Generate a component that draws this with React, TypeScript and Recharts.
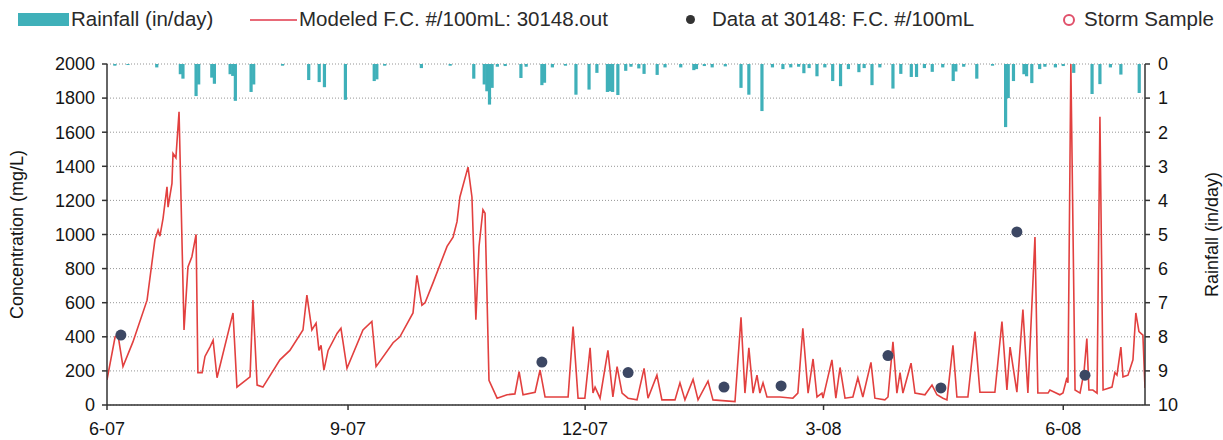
import {
  ComposedChart,
  Bar,
  Line,
  Scatter,
  XAxis,
  YAxis,
  CartesianGrid,
} from "recharts";

// x values are days counted from 6-1-2007
const monthTicks = [0, 92, 182.5, 273.5, 365];
const monthLabels = ["6-07", "9-07", "12-07", "3-08", "6-08"];
const concTicks = [0, 200, 400, 600, 800, 1000, 1200, 1400, 1600, 1800, 2000];
const rainTicks = [0, 1, 2, 3, 4, 5, 6, 7, 8, 9, 10];

// [day, in/day]
const rainfall: [number, number][] = [
  [3, 0.05], [8, 0.03], [19, 0.1], [28, 0.3], [29, 0.43], [34, 0.94], [35, 0.6],
  [40, 0.4], [41, 0.58], [47, 0.3], [48, 0.35], [49, 1.08], [55, 0.82], [56, 0.6],
  [67, 0.05], [77, 0.47], [81, 0.53], [83, 0.68], [91, 1.05], [102, 0.5], [103, 0.45],
  [106, 0.05], [120, 0.12], [131, 0.05], [140, 0.43], [144, 0.6], [145, 0.8],
  [146, 1.19], [147, 0.7], [149, 0.08], [152, 0.06], [158, 0.41], [160, 0.08],
  [166, 0.62], [167, 0.55], [170, 0.1], [175, 0.05], [179, 0.9], [184, 0.75],
  [187, 0.26], [191, 0.82], [192, 0.8], [193, 0.82], [195, 0.91], [198, 0.2],
  [200, 0.08], [203, 0.13], [205, 0.29], [210, 0.32], [213, 0.1], [219, 0.1],
  [224, 0.18], [225, 0.15], [228, 0.06], [231, 0.1], [236, 0.07], [242, 0.7],
  [245, 0.9], [250, 1.38], [254, 0.1], [258, 0.15], [261, 0.1], [264, 0.08],
  [266, 0.27], [268, 0.12], [271, 0.36], [274, 0.1], [277, 0.5], [280, 0.65],
  [283, 0.15], [287, 0.24], [289, 0.12], [292, 0.62], [295, 0.1], [300, 0.72],
  [303, 0.29], [307, 0.38], [309, 0.38], [312, 0.12], [315, 0.23], [319, 0.1],
  [323, 0.5], [324, 0.22], [327, 0.08], [332, 0.43], [338, 0.05], [343, 1.85],
  [344, 1.0], [346, 0.5], [350, 0.3], [351, 0.36], [353, 0.56], [356, 0.15],
  [358, 0.08], [362, 0.1], [365, 0.06], [369, 0.26], [376, 0.88], [379, 0.59],
  [383, 0.1], [387, 0.31], [394, 0.85],
];

// [day, F.C. #/100mL]
const modeledFC: [number, number][] = [
  [0, 147], [3.1, 400], [4.2, 410], [6.1, 225], [9.9, 370], [15.3, 615], [18.3, 970],
  [19.5, 1025], [20.2, 990], [21.4, 1095], [22.9, 1280], [23.3, 1160], [24.8, 1300],
  [25.2, 1475], [26.3, 1450], [27.5, 1720], [29.4, 440], [30.9, 810], [32.4, 870],
  [34.0, 1000], [34.7, 190], [36.3, 190], [37.4, 285], [39.3, 340], [40.5, 380],
  [42.0, 160], [48.1, 540], [49.6, 105], [54.6, 165], [55.7, 615], [57.3, 117],
  [59.5, 105], [66.0, 265], [69.8, 320], [74.8, 440], [76.3, 645], [78.2, 440],
  [79.8, 480], [80.9, 320], [81.7, 350], [82.8, 205], [84.4, 320], [87.8, 420],
  [89.3, 450], [91.6, 215], [97.7, 440], [101.1, 490], [102.7, 225], [109.2, 365],
  [111.8, 400], [116.8, 540], [118.3, 760], [120.2, 585], [121.4, 600], [124.4, 715],
  [129.8, 930], [132.1, 985], [133.6, 1075], [134.7, 1220], [137.8, 1395],
  [139.3, 1220], [140.8, 500], [142.0, 930], [143.5, 1145], [144.3, 1125],
  [145.8, 145], [148.9, 40], [152.7, 60], [155.7, 65], [157.3, 195], [158.8, 60],
  [163.4, 75], [165.3, 205], [167.2, 47], [176.0, 47], [177.9, 460], [179.8, 40],
  [182.4, 40], [184.4, 335], [185.5, 70], [186.3, 105], [188.2, 40], [191.2, 320],
  [193.1, 47], [194.7, 225], [196.6, 70], [198.9, 40], [202.3, 30], [205.0, 215],
  [206.5, 40], [209.9, 175], [211.8, 30], [216.8, 30], [218.7, 130], [220.6, 30],
  [223.7, 150], [225.6, 30], [229.4, 140], [231.3, 30], [239.7, 20], [242.0, 515],
  [243.5, 70], [245.0, 335], [246.6, 70], [248.1, 175], [249.2, 70], [250.4, 130],
  [251.9, 47], [256.9, 47], [261.8, 40], [263.7, 70], [265.6, 450], [267.6, 70],
  [269.5, 270], [271.0, 47], [272.9, 70], [273.3, 40], [276.7, 265], [278.2, 40],
  [279.8, 220], [281.7, 40], [284.7, 47], [286.6, 160], [288.5, 47], [291.6, 250],
  [293.1, 40], [296.9, 30], [298.1, 47], [300.0, 370], [301.5, 70], [302.7, 190],
  [303.8, 70], [306.9, 245], [308.4, 70], [312.2, 60], [314.9, 117], [316.8, 60],
  [319.1, 40], [320.6, 30], [322.9, 350], [324.4, 47], [328.6, 47], [331.3, 430],
  [333.2, 75], [338.9, 75], [341.6, 490], [343.5, 88], [344.7, 340], [347.3, 75],
  [349.6, 560], [351.5, 70], [354.2, 985], [355.3, 70], [359.2, 70], [359.9, 88],
  [363.7, 60], [364.9, 70], [366.4, 160], [366.8, 130], [367.9, 2000], [369.5, 88],
  [371.4, 70], [372.9, 190], [374.0, 390], [374.8, 88], [376.3, 88], [377.9, 70],
  [379.0, 1690], [380.2, 88], [383.6, 105], [384.7, 190], [385.5, 175], [387.0, 340],
  [387.8, 165], [389.7, 175], [391.6, 265], [392.7, 540], [393.9, 430], [395.4, 410],
  [396.2, 100],
];

const observedFC: [number, number][] = [
  [5.3, 410], [166, 252], [198.9, 190], [235.5, 105], [257.3, 112], [298.1, 290],
  [318.3, 100], [347.3, 1015], [373.3, 175],
];

const stormSamples: [number, number][] = [];

const FONT = "'Liberation Sans', Arial, sans-serif";
const TEAL = "#3fb0b9";
const RED = "#e2403f";
const NAVY = "#3c4763";

const chartData = rainfall.map(([day, rain]) => ({ day, rain }));
const modeledData = modeledFC.map(([day, fc]) => ({ day, fc }));
const observedData = observedFC.map(([day, fc]) => ({ day, fc }));
const stormData = stormSamples.map(([day, fc]) => ({ day, fc }));

const tickStyle = { fill: "#141414", fontSize: 18, fontFamily: FONT };

const RainBar = (props: any) => {
  const { x, y, width, height } = props;
  if (x == null || y == null) return null;
  const cx = x + (width || 0) / 2;
  const top = Math.min(y, y + height);
  const h = Math.abs(height);
  return <rect x={cx - 1.6} y={top} width={3.2} height={h} fill={TEAL} />;
};

const Dot = (props: any) => (
  <circle cx={props.cx} cy={props.cy} r={5.5} fill={NAVY} />
);

const StormDot = (props: any) => (
  <circle cx={props.cx} cy={props.cy} r={5} fill="none" stroke="#e0506a" strokeWidth={2} />
);

const legendText = {
  position: "absolute" as const,
  top: 7,
  fontSize: 20.5,
  fontFamily: FONT,
  color: "#2a2a2a",
  whiteSpace: "nowrap" as const,
  lineHeight: "24px",
};

const App = () => (
  <div style={{ position: "absolute", left: 0, top: 0, width: 1223, height: 440, background: "#fff" }}>
    <div style={{ position: "absolute", left: 18, top: 13, width: 51, height: 13, background: TEAL }} />
    <span style={{ ...legendText, left: 71 }}>Rainfall (in/day)</span>
    <div style={{ position: "absolute", left: 250, top: 19, width: 47, height: 2, background: "#e86a78" }} />
    <span style={{ ...legendText, left: 299 }}>Modeled F.C. #/100mL: 30148.out</span>
    <div style={{ position: "absolute", left: 686, top: 15, width: 9, height: 9, borderRadius: "50%", background: "#333" }} />
    <span style={{ ...legendText, left: 712 }}>Data at 30148: F.C. #/100mL</span>
    <div style={{ position: "absolute", left: 1063, top: 14, width: 8, height: 8, borderRadius: "50%", border: "2px solid #e0506a" }} />
    <span style={{ ...legendText, left: 1084 }}>Storm Sample</span>

    <ComposedChart
      width={1223}
      height={440}
      data={chartData}
      margin={{ top: 64, right: 23, bottom: 0, left: 47 }}
    >
      <CartesianGrid
        yAxisId="conc"
        vertical={false}
        stroke="#7a7a7a"
        strokeDasharray="1 2"
        strokeWidth={0.8}
      />
      <XAxis
        dataKey="day"
        type="number"
        domain={[0, 396.2]}
        ticks={monthTicks}
        tickFormatter={(v: number) => monthLabels[monthTicks.indexOf(v)] ?? ""}
        tick={tickStyle}
        tickSize={5}
        tickMargin={12}
        height={35}
        stroke="#333"
        strokeWidth={1.5}
        allowDataOverflow
      />
      <YAxis
        yAxisId="conc"
        domain={[0, 2000]}
        ticks={concTicks}
        tick={tickStyle}
        tickSize={5}
        tickMargin={7}
        width={60}
        stroke="#333"
        strokeWidth={1.5}
        allowDataOverflow
        label={{
          value: "Concentration (mg/L)",
          angle: -90,
          position: "insideLeft",
          offset: -30,
          style: { textAnchor: "middle", fontSize: 18, fontFamily: FONT, fill: "#141414" },
        }}
      />
      <YAxis
        yAxisId="rain"
        orientation="right"
        reversed
        domain={[0, 10]}
        ticks={rainTicks}
        tick={tickStyle}
        tickSize={5}
        tickMargin={8}
        width={55}
        stroke="#333"
        strokeWidth={1.5}
        label={{
          value: "Rainfall (in/day)",
          angle: -90,
          position: "insideRight",
          offset: -12,
          style: { textAnchor: "middle", fontSize: 18, fontFamily: FONT, fill: "#141414" },
        }}
      />
      <Bar
        yAxisId="rain"
        dataKey="rain"
        fill={TEAL}
        barSize={3}
        shape={RainBar}
        isAnimationActive={false}
      />
      <Line
        yAxisId="conc"
        data={modeledData}
        dataKey="fc"
        type="linear"
        stroke={RED}
        strokeWidth={1.6}
        dot={false}
        activeDot={false}
        isAnimationActive={false}
      />
      <Scatter
        yAxisId="conc"
        data={observedData}
        dataKey="fc"
        shape={Dot}
        isAnimationActive={false}
      />
      <Scatter
        yAxisId="conc"
        data={stormData}
        dataKey="fc"
        shape={StormDot}
        isAnimationActive={false}
      />
    </ComposedChart>
  </div>
);

export default App;
